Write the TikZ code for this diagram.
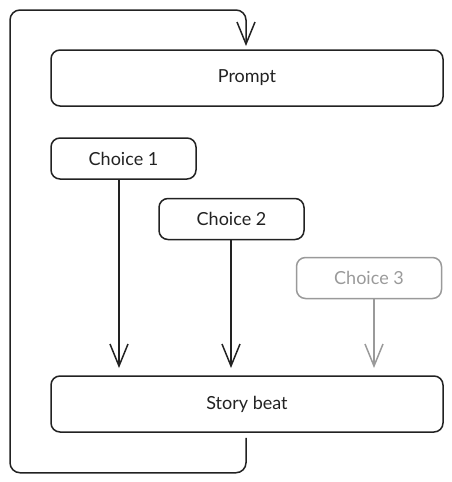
\documentclass[tikz,border=0pt]{standalone}
\usepackage{fontspec}
\setmainfont{Lato}
\usetikzlibrary{arrows.meta}
\definecolor{ink}{HTML}{222222}
\definecolor{dim}{HTML}{9A9A9A}
\tikzset{
  box/.style={draw=ink, line width=1.5pt, rounded corners=9pt, inner sep=0pt, font=\fontsize{18}{21}\selectfont, text=ink},
  wide/.style={box, minimum width=392pt, minimum height=56pt},
  choicebox/.style={box, minimum width=145pt, minimum height=41pt},
  faded/.style={draw=dim, text=dim},
  arr/.style={draw=ink, line width=1.5pt, -{Straight Barb[length=22pt,width=18pt,line width=1.5pt]}},
}
\begin{document}
\begin{tikzpicture}[x=1pt,y=-1pt]
\useasboundingbox (0,0) rectangle (452,482);
\node[wide] (prompt) at (247,78) {Prompt};
\node[choicebox] (c1) at (123.5,158.5) {Choice 1};
\node[choicebox] (c2) at (231.5,219) {Choice 2};
\node[choicebox, faded] (c3) at (369,278) {Choice 3};
\node[wide] (story) at (247,404) {Story beat};
\coordinate (a1) at (119,368);
\coordinate (a2) at (231,368);
\coordinate (a3) at (374,368);
\draw[arr] (c1.south -| a1) -- (a1);
\draw[arr] (c2.south -| a2) -- (a2);
\draw[arr, draw=dim, -{Straight Barb[length=22pt,width=18pt,line width=1.5pt,color=dim]}] (c3.south -| a3) -- (a3);
\coordinate (top) at (246,46);
\draw[arr, rounded corners=10pt] ([xshift=-1pt,yshift=-5pt]story.south) -- ++(0,35) -| (10,10) -| (top);
\end{tikzpicture}
\end{document}
